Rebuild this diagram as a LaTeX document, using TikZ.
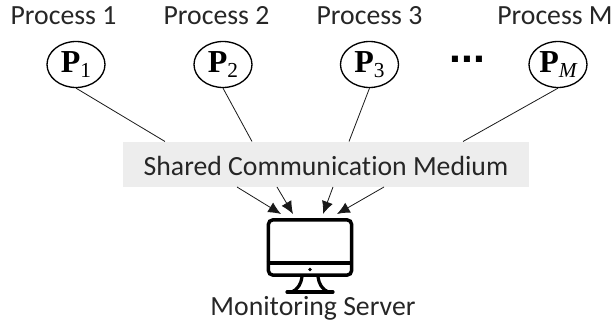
\documentclass[tikz,border=0pt]{standalone}
\usepackage{fontspec}
\setmainfont{Carlito}[Ligatures=NoCommon]
\newfontfamily\serifb{Liberation Serif}[BoldFont={Liberation Serif Bold}]
\newfontfamily\sansb{Liberation Sans}[BoldFont={Liberation Sans Bold}]
\usetikzlibrary{shapes.geometric,arrows.meta}
\tikzset{
  proc/.style={draw=black,line width=1pt,ellipse,minimum width=43.5pt,minimum height=34.5pt,inner sep=0pt},
  lbl/.style={font=\fontsize{20.8pt}{24pt}\selectfont,text=black!85,inner sep=0pt},
  link/.style={draw=black!90,line width=0.6pt},
  feed/.style={link,-{Latex[length=9.5pt,width=8.5pt]}},
  medium/.style={fill=black!7,draw=none,inner sep=0pt,minimum width=304.5pt,minimum height=34pt},
  pname/.style={font=\serifb\fontsize{24pt}{26pt}\selectfont\bfseries},
  screen/.style={draw=black,line width=2.6pt,rounded corners=3.5pt,inner sep=0pt,minimum width=62.5pt,minimum height=41.5pt}
}
\newcommand{\pn}[1]{\textbf{P}\raisebox{-3.5pt}{\fontsize{16pt}{16pt}\selectfont\mdseries #1}}
\begin{document}
\begin{tikzpicture}[x=0.75pt,y=-0.75pt]
\useasboundingbox (0,0) rectangle (612,328);
\node[medium] (med) at (326,164.3) {};
\node[lbl] at (326,165.5) {Shared Communication Medium};

\node[lbl] (t1) at (63.5,16) {Process 1};
\node[lbl] (t2) at (216.5,16) {Process 2};
\node[lbl] (t3) at (369.5,16) {Process 3};
\node[lbl] (tm) at (555,16) {Process M};

\node[proc,pname] (p1) at (76,64.5) {\pn{1}};
\node[proc,pname] (p2) at (223,64.5) {\pn{2}};
\node[proc,pname] (p3) at (369.5,64.5) {\pn{3}};
\node[proc,pname] (pm) at (558,64.5) {\pn{\itshape M}};

\node[font=\sansb\bfseries\fontsize{32pt}{32pt}\selectfont] (dots) at (467.5,59) {...};

\coordinate (c1) at (165,141.5);
\coordinate (c2) at (252,141.5);
\coordinate (c3) at (349,141.5);
\coordinate (c4) at (463,141.5);
\draw[link] (p1.south) -- (c1);
\draw[link] (p2.south) -- (c2);
\draw[link] (p3.south) -- (c3);
\draw[link] (pm.south) -- (c4);

\coordinate (a1) at (237,187);
\coordinate (a2) at (277,187);
\coordinate (a3) at (333,187);
\coordinate (a4) at (384,187);
\coordinate (b1) at (281,214);
\coordinate (b2) at (293,214);
\coordinate (b3) at (323,214);
\coordinate (b4) at (337,214);
\draw[feed] (a1) -- (b1);
\draw[feed] (a2) -- (b2);
\draw[feed] (a3) -- (b3);
\draw[feed] (a4) -- (b4);

\node[screen] (mon) at (310,247.5) {};
\draw[line width=2.6pt] (mon.west |- 0,263) -- (mon.east |- 0,263);
\fill (310,269.5) circle (1.8);
\draw[line width=2.4pt,line cap=round] (302,277) .. controls (301,284) and (298,289) .. (292,292);
\draw[line width=2.4pt,line cap=round] (318,277) .. controls (319,284) and (322,289) .. (328,292);
\draw[line width=2.4pt,line cap=round] (287,292) -- (333,292);
\node[lbl] (srv) at (313,308.5) {Monitoring Server};
\end{tikzpicture}
\end{document}
